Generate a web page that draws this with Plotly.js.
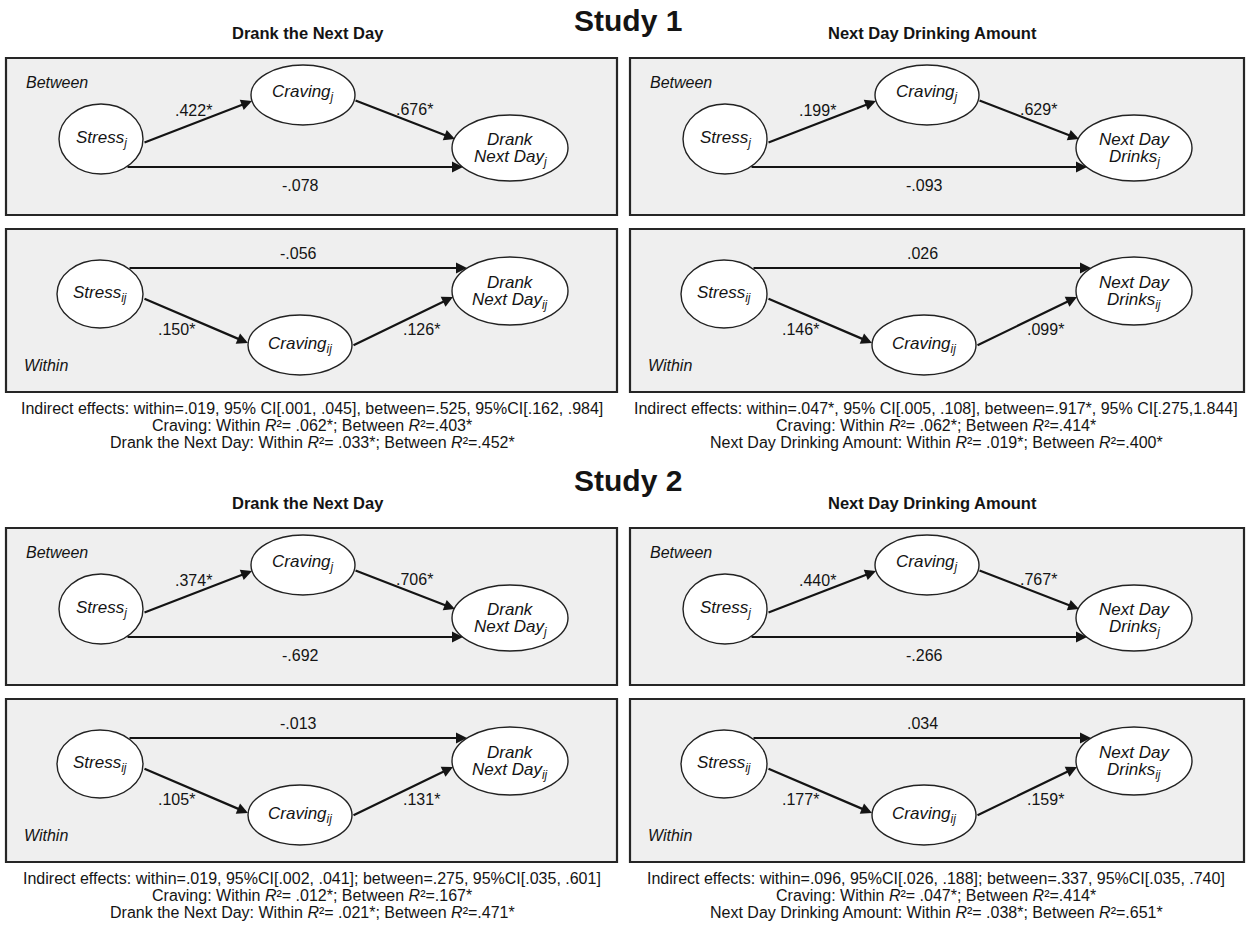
<!DOCTYPE html>
<html>
<head>
<meta charset="utf-8">
<script src="https://cdn.plot.ly/plotly-3.0.1.min.js"></script>
<style>
  html, body { margin: 0; padding: 0; background: #ffffff; }
  #chart { width: 1256px; height: 950px; }
</style>
</head>
<body>
<div id="chart"></div>
<script>
// ---------------- DATA ----------------
// Panel order: [Study 1 Drank, Study 1 Amount, Study 2 Drank, Study 2 Amount]
const studyTitles = ['Study 1', 'Study 2'];
const outcomeTitles = ['Drank the Next Day', 'Next Day Drinking Amount'];
const outcomeNodeLines = [['Drank', 'Next Day'], ['Next Day', 'Drinks']];
const outcomeR2Names = ['Drank the Next Day', 'Next Day Drinking Amount'];

const betweenStressCraving = ['.422*', '.199*', '.374*', '.440*'];
const betweenCravingOutcome = ['.676*', '.629*', '.706*', '.767*'];
const betweenDirect = ['-.078', '-.093', '-.692', '-.266'];

const withinStressCraving = ['.150*', '.146*', '.105*', '.177*'];
const withinCravingOutcome = ['.126*', '.099*', '.131*', '.159*'];
const withinDirect = ['-.056', '.026', '-.013', '.034'];

const indirectEffects = [
  'Indirect effects: within=.019, 95% CI[.001, .045], between=.525, 95%CI[.162, .984]',
  'Indirect effects: within=.047*, 95% CI[.005, .108], between=.917*, 95% CI[.275,1.844]',
  'Indirect effects: within=.019, 95%CI[.002, .041]; between=.275, 95%CI[.035, .601]',
  'Indirect effects: within=.096, 95%CI[.026, .188]; between=.337, 95%CI[.035, .740]'
];
const cravingR2Within = ['.062*', '.062*', '.012*', '.047*'];
const cravingR2Between = ['.403*', '.414*', '.167*', '.414*'];
const outcomeR2Within = ['.033*', '.019*', '.021*', '.038*'];
const outcomeR2Between = ['.452*', '.400*', '.471*', '.651*'];

// ---------------- LAYOUT GEOMETRY (pixels) ----------------
const W = 1256, H = 950;
const FONT = '"Liberation Sans", Arial, Helvetica, sans-serif';
const colX = [0, 624];
const colBoxRight = [617, 1244];
const rowY = [0, 470];
const studyTitleY = [20, 480];
const boxFill = '#efefef';
const ink = '#141414';

const G = {
  panelTitleY: 33, panelTitleX: 308, textCX: 312,
  betBox: [6, 58, 215],
  witBox: [6, 229, 392],
  // nodes [cx, cy, rx, ry]
  bStress: [101, 139, 42, 35],
  bCrav: [303, 95, 52, 30],
  bOut: [510, 148, 58, 33],
  wStress: [100, 294, 43, 34],
  wCrav: [300, 345, 52, 30],
  wOut: [510, 291, 58, 34],
  textY: [408, 425, 442]
};

const shapes = [];
const annotations = [];

function txt(x, y, text, size, opts) {
  annotations.push(Object.assign({
    x: x, y: y, xref: 'x', yref: 'y', text: text, showarrow: false,
    font: { family: FONT, size: size, color: ink },
    xanchor: 'center', yanchor: 'middle'
  }, opts || {}));
}
function box(b, ox, x1, oy) {
  shapes.push({ type: 'rect', xref: 'x', yref: 'y',
    x0: b[0] + ox, y0: b[1] + oy, x1: x1, y1: b[2] + oy,
    fillcolor: boxFill, line: { color: '#262626', width: 2.2 }, layer: 'below' });
}
function ell(e, ox, oy) {
  shapes.push({ type: 'circle', xref: 'x', yref: 'y',
    x0: e[0] - e[2] + ox, x1: e[0] + e[2] + ox,
    y0: e[1] - e[3] + oy, y1: e[1] + e[3] + oy,
    fillcolor: '#ffffff', line: { color: '#222', width: 1.4 }, layer: 'above' });
}
function arrow(x0, y0, x1, y1) {
  annotations.push({ x: x1, y: y1, ax: x0, ay: y0, xref: 'x', yref: 'y', axref: 'x', ayref: 'y',
    text: '', showarrow: true, arrowhead: 2, arrowsize: 1, arrowwidth: 2.2, arrowcolor: ink,
    standoff: 0, startstandoff: 0 });
}
function twoLine(e, ox, oy, l1, l2, sub) {
  txt(e[0] + ox, e[1] + oy - 9, '<i>' + l1 + '</i>', 17);
  txt(e[0] + ox, e[1] + oy + 10, '<i>' + l2 + '<sub>' + sub + '</sub></i>', 17);
}

function panel(row, col) {
  const i = row * 2 + col;
  const ox = colX[col], oy = rowY[row];
  txt(G.panelTitleX + ox, G.panelTitleY + oy, '<b>' + outcomeTitles[col] + '</b>', 16.5);

  // ---- Between level ----
  box(G.betBox, ox, colBoxRight[col], oy);
  txt(24 + ox, 82 + oy, '<i>Between</i>', 16, { xanchor: 'left' });
  arrow(143 + ox, 143 + oy, 252 + ox, 101 + oy);
  arrow(354 + ox, 100 + oy, 455 + ox, 139 + oy);
  arrow(126 + ox, 167 + oy, 463 + ox, 167 + oy);
  ell(G.bStress, ox, oy); ell(G.bCrav, ox, oy); ell(G.bOut, ox, oy);
  txt(G.bStress[0] + ox, G.bStress[1] + oy, '<i>Stress<sub>j</sub></i>', 17);
  txt(G.bCrav[0] + ox, G.bCrav[1] + oy - 2, '<i>Craving<sub>j</sub></i>', 17);
  twoLine(G.bOut, ox, oy, outcomeNodeLines[col][0], outcomeNodeLines[col][1], 'j');
  txt(193 + ox, 110 + oy, betweenStressCraving[i], 16);
  txt(414 + ox, 109 + oy, betweenCravingOutcome[i], 16);
  txt(300 + ox, 185 + oy, betweenDirect[i], 16);

  // ---- Within level ----
  box(G.witBox, ox, colBoxRight[col], oy);
  txt(22 + ox, 365 + oy, '<i>Within</i>', 16, { xanchor: 'left' });
  arrow(128 + ox, 268 + oy, 467 + ox, 268 + oy);
  arrow(143 + ox, 298 + oy, 248 + ox, 343 + oy);
  arrow(352 + ox, 346 + oy, 453 + ox, 297 + oy);
  ell(G.wStress, ox, oy); ell(G.wCrav, ox, oy); ell(G.wOut, ox, oy);
  txt(G.wStress[0] + ox, G.wStress[1] + oy, '<i>Stress<sub>ij</sub></i>', 17);
  txt(G.wCrav[0] + ox, G.wCrav[1] + oy, '<i>Craving<sub>ij</sub></i>', 17);
  twoLine(G.wOut, ox, oy, outcomeNodeLines[col][0], outcomeNodeLines[col][1], 'ij');
  txt(298 + ox, 253 + oy, withinDirect[i], 16);
  txt(176 + ox, 329 + oy, withinStressCraving[i], 16);
  txt(421 + ox, 329 + oy, withinCravingOutcome[i], 16);

  // ---- Notes below ----
  txt(G.textCX + ox, G.textY[0] + oy, indirectEffects[i], 16);
  txt(G.textCX + ox, G.textY[1] + oy,
    'Craving: Within <i>R</i>²= ' + cravingR2Within[i] + '; Between <i>R</i>²=' + cravingR2Between[i], 16);
  txt(G.textCX + ox, G.textY[2] + oy,
    outcomeR2Names[col] + ': Within <i>R</i>²= ' + outcomeR2Within[i] + '; Between <i>R</i>²=' + outcomeR2Between[i], 16);
}

for (let r = 0; r < 2; r++) {
  txt(628, studyTitleY[r], '<b>' + studyTitles[r] + '</b>', 30);
  for (let c = 0; c < 2; c++) panel(r, c);
}

const layout = {
  width: W, height: H,
  margin: { l: 0, r: 0, t: 0, b: 0 },
  paper_bgcolor: '#ffffff', plot_bgcolor: '#ffffff',
  xaxis: { range: [0, W], visible: false, fixedrange: true },
  yaxis: { range: [H, 0], visible: false, fixedrange: true },
  showlegend: false,
  shapes: shapes,
  annotations: annotations
};

Plotly.newPlot('chart', [{ x: [0], y: [0], mode: 'markers', marker: { opacity: 0 }, hoverinfo: 'skip' }], layout, { staticPlot: true });
</script>
</body>
</html>
